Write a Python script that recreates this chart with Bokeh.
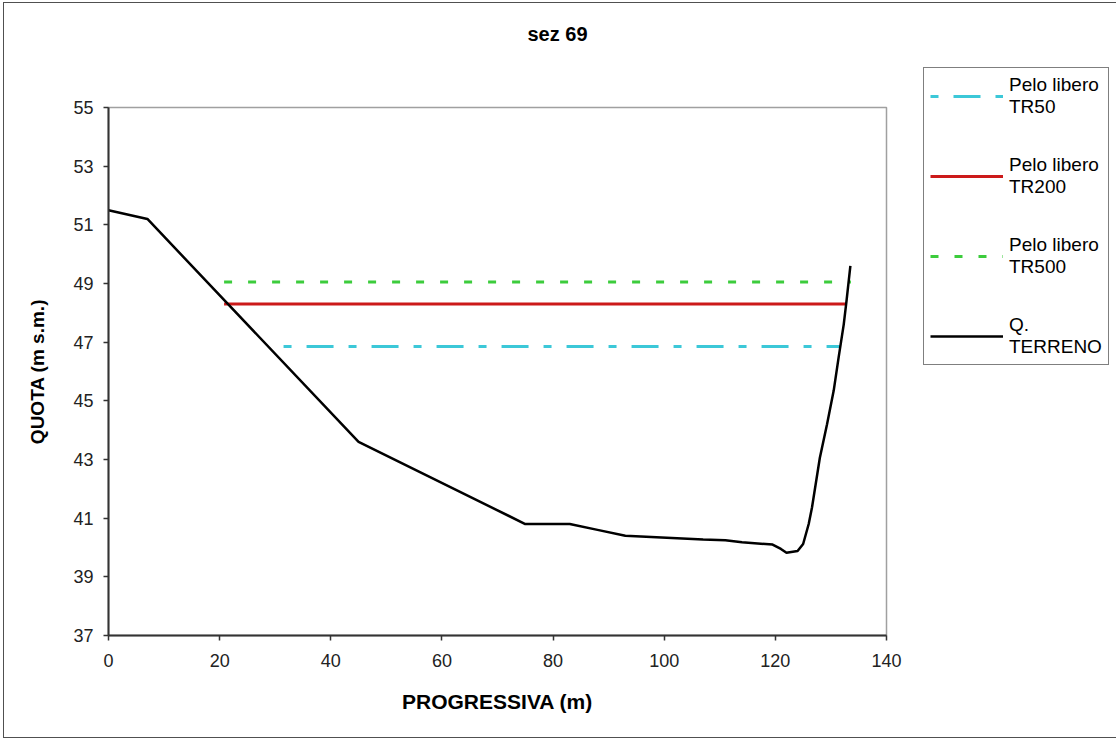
from bokeh.plotting import figure
from bokeh.models import Range1d, FixedTicker, Legend, LegendItem, Title
from bokeh.embed import file_html
from bokeh.resources import INLINE

# ---- data ----
terrain_x = [0, 7, 45, 75, 83, 88, 93, 107, 111, 114, 119.5, 121, 122, 124,
             125, 126, 126.6, 128, 129.3, 130.5, 131.4, 132.3, 132.8, 133.5]
terrain_y = [51.5, 51.2, 43.6, 40.8, 40.8, 40.6, 40.4, 40.27, 40.25, 40.18,
             40.1, 39.95, 39.82, 39.88, 40.12, 40.8, 41.37, 43.05, 44.2,
             45.35, 46.5, 47.6, 48.4, 49.6]

tr50_x = [31.5, 131.6]
tr50_y = [46.85, 46.85]
tr200_x = [20.8, 132.8]
tr200_y = [48.3, 48.3]
tr500_x = [20.8, 133.6]
tr500_y = [49.05, 49.05]

x_ticks = [0, 20, 40, 60, 80, 100, 120, 140]
y_ticks = [37, 39, 41, 43, 45, 47, 49, 51, 53, 55]

series_labels = ["Pelo libero\nTR50", "Pelo libero\nTR200",
                 "Pelo libero\nTR500", "Q.\nTERRENO"]
title_text = "sez 69"
x_title = "PROGRESSIVA (m)"
y_title = "QUOTA (m s.m.)"

FONT = "Liberation Sans"

p = figure(frame_width=778, frame_height=528,
           x_range=Range1d(0, 140), y_range=Range1d(37, 55),
           output_backend="svg", toolbar_location=None,
           min_border_left=104, min_border_right=228,
           min_border_top=104, min_border_bottom=102)

p.styles = {"border": "1px solid #505050", "margin-left": "3px",
            "margin-top": "2px"}
p.background_fill_color = "white"
p.border_fill_color = "white"
p.outline_line_color = "#a0a0a0"
p.outline_line_width = 1.5
p.xgrid.visible = False
p.ygrid.visible = False

# spacer between title and plot area
spacer = Title(text=" ", text_font_size="10px", standoff=50)
p.add_layout(spacer, "above")

p.title.text = title_text
p.title.align = "left"
p.title.offset = 419
p.title.standoff = 0
p.title.text_font = FONT
p.title.text_font_size = "20px"
p.title.text_font_style = "bold"
p.title.text_color = "black"

p.xaxis.ticker = FixedTicker(ticks=x_ticks)
p.yaxis.ticker = FixedTicker(ticks=y_ticks)
p.xaxis.axis_label = x_title
p.yaxis.axis_label = y_title
for ax in (p.xaxis[0], p.yaxis[0]):
    ax.axis_line_color = "#333333"
    ax.axis_line_width = 2
    ax.major_tick_line_color = "#333333"
    ax.major_tick_line_width = 1.5
    ax.major_tick_in = 0
    ax.major_tick_out = 5
    ax.minor_tick_line_color = None
    ax.major_label_text_font = FONT
    ax.major_label_text_font_size = "18px"
    ax.major_label_text_color = "#222222"
    ax.axis_label_text_font = FONT
    ax.axis_label_text_font_style = "bold"
    ax.axis_label_text_color = "black"
p.xaxis.major_label_standoff = 13
p.yaxis.major_label_standoff = 10
p.xaxis.axis_label_text_font_size = "21px"
p.yaxis.axis_label_text_font_size = "19px"
p.xaxis.axis_label_standoff = 20
p.yaxis.axis_label_standoff = 22

r50 = p.line(tr50_x, tr50_y, line_color="#3cc8d8", line_width=3,
             line_dash="8 15 27 15")
r200 = p.line(tr200_x, tr200_y, line_color="#cc1a1a", line_width=3)
r500 = p.line(tr500_x, tr500_y, line_color="#3ccc3c", line_width=3,
              line_dash="8 16")
rt = p.line(terrain_x, terrain_y, line_color="black", line_width=2.5)

legend = Legend(items=[LegendItem(label=series_labels[0], renderers=[r50]),
                       LegendItem(label=series_labels[1], renderers=[r200]),
                       LegendItem(label=series_labels[2], renderers=[r500]),
                       LegendItem(label=series_labels[3], renderers=[rt])],
                location=(37, 270))
legend.glyph_width = 73
legend.glyph_height = 20
legend.label_standoff = 6
legend.padding = 6
legend.spacing = 36
legend.margin = 0
legend.label_text_font = FONT
legend.label_text_font_size = "19px"
legend.label_text_color = "black"
legend.border_line_color = "black"
legend.border_line_width = 1.5
legend.background_fill_color = "white"
legend.background_fill_alpha = 1.0
p.add_layout(legend, "right")

open("out.html", "w").write(file_html(p, INLINE))
